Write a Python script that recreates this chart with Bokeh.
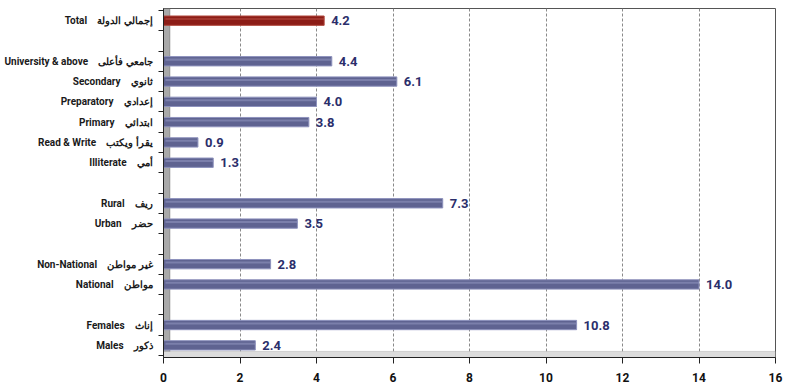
from bokeh.plotting import figure
from bokeh.models import ColumnDataSource, Range1d, FixedTicker, LabelSet, BoxAnnotation
from bokeh.transform import dodge
from bokeh.core.properties import value
from bokeh.embed import file_html
from bokeh.resources import INLINE

# ---- data ----
labels_en = ["Total", "University & above", "Secondary", "Preparatory", "Primary",
             "Read & Write", "Illiterate", "Rural", "Urban", "Non-National",
             "National", "Females", "Males"]
labels_ar = ["إجمالي الدولة", "جامعي فأعلى", "ثانوي", "إعدادي", "ابتدائي",
             "يقرأ ويكتب", "أمي", "ريف", "حضر", "غير مواطن",
             "مواطن", "إناث", "ذكور"]
values = [4.2, 4.4, 6.1, 4.0, 3.8, 0.9, 1.3, 7.3, 3.5, 2.8, 14.0, 10.8, 2.4]
# row slot of each category (blank slots separate the groups)
slots = [0, 2, 3, 4, 5, 6, 7, 9, 10, 12, 13, 15, 16]
x_ticks = [0, 2, 4, 6, 8, 10, 12, 14, 16]

fill = ["#8c1d17"] + ["#5f6391"] * (len(values) - 1)
shine = ["#b0463c"] + ["#8e92bd"] * (len(values) - 1)

src = ColumnDataSource(dict(
    y=slots, v=values, fill=fill, shine=shine,
    txt=[f"{v:.1f}" for v in values],
))

p = figure(width=784, height=387, output_backend="svg", toolbar_location=None,
           x_range=Range1d(0, 16), y_range=Range1d(16.6, -0.6),
           min_border_left=163, min_border_right=9, min_border_top=8,
           min_border_bottom=30)

p.background_fill_color = "white"
p.outline_line_color = "#555555"
p.outline_line_width = 1

# decorative 3D wall & floor
p.add_layout(BoxAnnotation(left=0, right=0.17, fill_color="#a9a9a9", fill_alpha=1,
                           line_color="#444444", line_width=1, level="underlay"))
p.add_layout(BoxAnnotation(bottom=16.6, top=16.3, fill_color="#dcdcdc", fill_alpha=1,
                           line_color="#888888", line_width=1, level="underlay"))

# bars
p.hbar(y="y", left=0, right="v", height=0.46, fill_color="fill", line_color="shine",
       line_width=1, source=src)
p.hbar(y=dodge("y", -0.08, range=p.y_range), left=0.05, right="v", height=0.1,
       fill_color="shine", line_color=None, fill_alpha=0.6, source=src)

# value labels
p.add_layout(LabelSet(x="v", y="y", text="txt", source=src, x_offset=7,
                      text_baseline="middle", text_font_size="13px",
                      text_font_style="bold", text_color="#2b2e6b",
                      text_font=value("Roboto")))

# x axis
p.xaxis.ticker = FixedTicker(ticks=x_ticks)
p.xaxis.axis_line_color = "#222222"
p.xaxis.major_tick_line_color = "#222222"
p.xaxis.major_tick_out = 6
p.xaxis.major_tick_in = 0
p.xaxis.minor_tick_line_color = None
p.xaxis.major_label_standoff = 9
p.xaxis.major_label_text_font_size = "12px"
p.xaxis.major_label_text_font_style = "bold"
p.xaxis.major_label_text_color = "#111111"
p.xaxis.major_label_text_font = "Roboto"

# y axis with bilingual category labels
p.yaxis.ticker = FixedTicker(ticks=slots, minor_ticks=[s - 0.5 for s in range(18)])
p.yaxis.major_label_overrides = {
    s: f"{en}\u00a0\u00a0\u00a0\u00a0{ar}" for s, en, ar in zip(slots, labels_en, labels_ar)
}
p.yaxis.axis_line_color = "#222222"
p.yaxis.major_tick_line_color = None
p.yaxis.major_tick_out = 0
p.yaxis.minor_tick_line_color = "#222222"
p.yaxis.minor_tick_out = 5
p.yaxis.minor_tick_in = 0
p.yaxis.major_label_standoff = 6
p.yaxis.major_label_text_font_size = "10px"
p.yaxis.major_label_text_font_style = "bold"
p.yaxis.major_label_text_color = "#1a1a1a"
p.yaxis.major_label_text_font = "Roboto"

# grid
p.xgrid.ticker = FixedTicker(ticks=x_ticks[1:])
p.xgrid.grid_line_color = "#8a8a8a"
p.xgrid.grid_line_dash = "3 2"
p.xgrid.grid_line_width = 1
p.ygrid.grid_line_color = None

open("out.html", "w").write(file_html(p, INLINE))
